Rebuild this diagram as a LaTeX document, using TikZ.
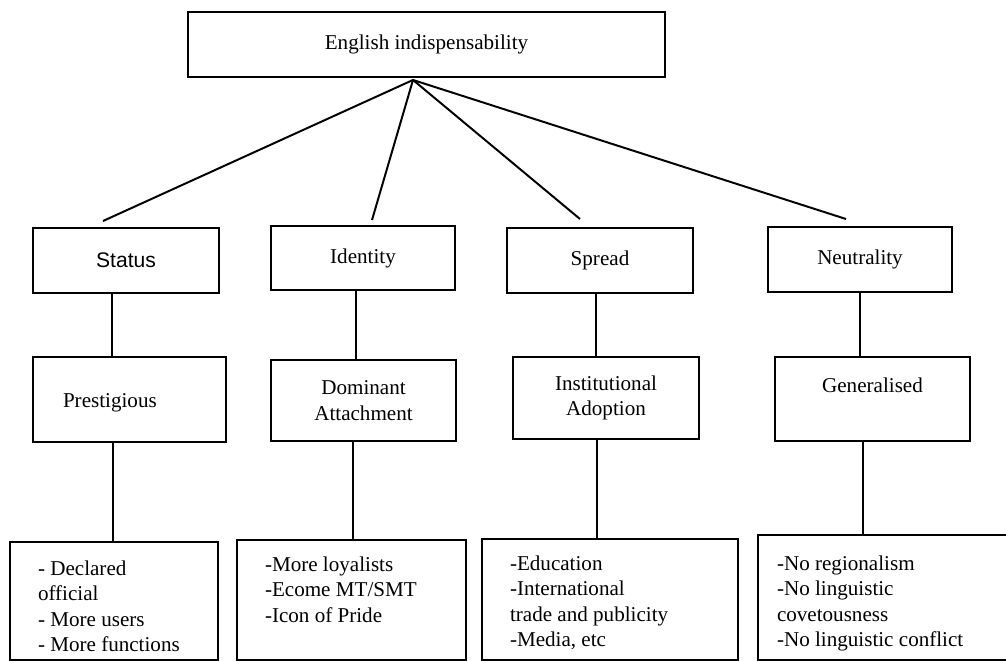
\documentclass[tikz,border=0pt]{standalone}
\usepackage{fontspec}
\setmainfont{Liberation Serif}
\newfontfamily\arialfont{Liberation Sans}
\usetikzlibrary{positioning,calc}
\newcommand{\pxu}{0.025cm}

\begin{document}
\begin{tikzpicture}[x=0.025cm, y=-0.025cm, line width=1.4pt,
    font=\fontsize{15}{18}\selectfont,
    box/.style={draw, rectangle, inner sep=0pt, align=center},
    list/.style={anchor=north west, inner sep=0pt, align=left}]

    \useasboundingbox (0,0) rectangle (1006,661);
    \clip (0,0) rectangle (1006,661);

    \node[box, minimum width=477*\pxu, minimum height=65*\pxu] (top) at (426.5,44.5) {English indispensability};

    % second row
    \node[box, minimum width=186*\pxu, minimum height=65*\pxu, font=\arialfont\fontsize{15}{18}\selectfont] (stat) at (126,260.5) {Status};
    \node[box, minimum width=184*\pxu, minimum height=64*\pxu] (iden) at (363,258) {Identity};
    \node[box, minimum width=186*\pxu, minimum height=65*\pxu] (spre) at (600,260.5) {Spread};
    \node[box, minimum width=184*\pxu, minimum height=65*\pxu] (neut) at (860,259.5) {Neutrality};

    % third row
    \node[box, minimum width=193*\pxu, minimum height=85*\pxu, label={[xshift=-0.49cm, yshift=-0.09cm]center:Prestigious}] (prest) at (129.5,399.5) {};
    \node[box, minimum width=185*\pxu, minimum height=81*\pxu] (domin) at (363.5,400.5) {Dominant\\Attachment};
    \node[box, minimum width=186*\pxu, minimum height=82*\pxu] (insti) at (606,398) {Institutional\\Adoption};
    \node[box, minimum width=195*\pxu, minimum height=84*\pxu, label={[yshift=0.35cm]center:Generalised}] (gener) at (872.5,399) {};

    % bottom row
    \node[box, minimum width=208*\pxu, minimum height=118*\pxu] (lst1) at (114,601) {};
    \node[box, minimum width=229*\pxu, minimum height=120*\pxu] (lst2) at (351.5,600) {};
    \node[box, minimum width=256*\pxu, minimum height=121*\pxu] (lst3) at (610,599.5) {};
    \node[box, minimum width=262*\pxu, minimum height=125*\pxu] (lst4) at (889,597.5) {};

    \node[list] (txt1) at ($(lst1.north west)+(28,19)$) {- Declared\\official\\- More users\\- More functions};
    \node[list] (txt2) at ($(lst2.north west)+(28,17)$) {-More loyalists\\-Ecome MT/SMT\\-Icon of Pride};
    \node[list] (txt3) at ($(lst3.north west)+(28,17)$) {-Education\\-International\\trade and publicity\\-Media, etc};
    \node[list] (txt4) at ($(lst4.north west)+(19,21)$) {-No regionalism\\-No linguistic\\covetousness\\-No linguistic conflict};

    % fan out from the top box
    \coordinate (apex) at ($(top.south)+(-13.5,2)$);
    \foreach \b/\dx/\dy in {stat/-23/-6, iden/9/-5, spre/-20/-8, neut/-14/-7}
        \draw (apex) -- ($(\b.north)+(\dx,\dy)$);

    \foreach \a/\b/\dx in {stat/prest/-14, iden/domin/-7, spre/insti/-4, neut/gener/0,
                           prest/lst1/-16.5, domin/lst2/-10.5, insti/lst3/-9, gener/lst4/-9.5}
        \draw ($(\a.south)+(\dx,0)$) coordinate (p) -- (p |- \b.north);
\end{tikzpicture}
\end{document}
